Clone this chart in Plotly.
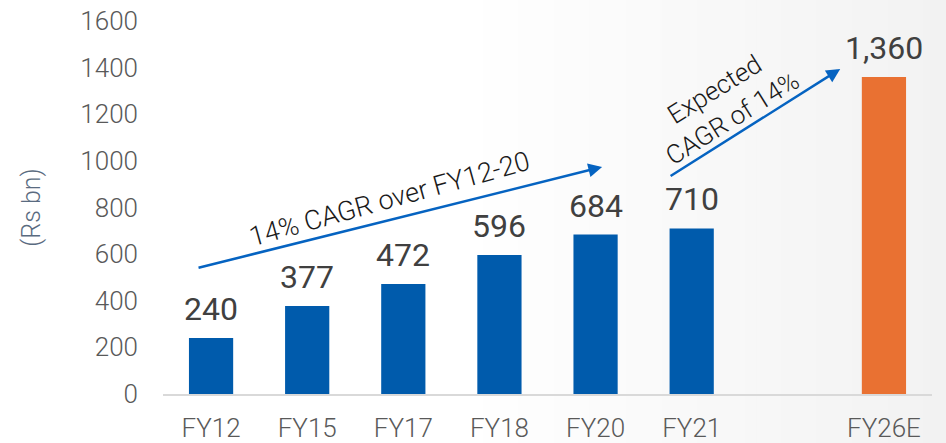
import plotly.graph_objects as go

categories = ["FY12", "FY15", "FY17", "FY18", "FY20", "FY21", " ", "FY26E"]
values = [240, 377, 472, 596, 684, 710, None, 1360]
bar_colors = ["#005BAC", "#005BAC", "#005BAC", "#005BAC", "#005BAC", "#005BAC", "#005BAC", "#E97132"]
y_ticks = [0, 200, 400, 600, 800, 1000, 1200, 1400, 1600]

FONT = "Roboto"

fig = go.Figure()
fig.add_trace(go.Bar(
    x=categories, y=values, marker=dict(color=bar_colors, line=dict(width=0)),
    width=0.46, hoverinfo="skip",
))

# subtle background gradient (white -> light grey towards the right)
n_steps = 40
x0p, x1p = 0.4, 1.02
for i in range(n_steps):
    t = (i + 1) / n_steps
    g = int(round(255 - t * 13))
    fig.add_shape(type="rect", xref="paper", yref="paper", layer="below",
                  x0=x0p + (x1p - x0p) * i / n_steps, x1=x0p + (x1p - x0p) * (i + 1) / n_steps + 0.002,
                  y0=-0.3, y1=1.2, line=dict(width=0), fillcolor=f"rgb({g},{g},{g})")

# data labels
for c, v in zip(categories, values):
    if v is None:
        continue
    fig.add_annotation(x=c, y=v, text=f"{v:,}", showarrow=False, yanchor="bottom",
                       yshift=8, font=dict(family=FONT, size=32, color="#404040"))

# arrows
arrow_color = "#0563C1"
fig.add_annotation(x=4.068, y=974, ax=-0.146, ay=540, xref="x", yref="y", axref="x", ayref="y",
                   text="", showarrow=True, arrowhead=2, arrowsize=1.1, arrowwidth=2.5,
                   arrowcolor=arrow_color)
fig.add_annotation(x=6.545, y=1394, ax=4.765, ay=931, xref="x", yref="y", axref="x", ayref="y",
                   text="", showarrow=True, arrowhead=2, arrowsize=1.1, arrowwidth=2.5,
                   arrowcolor=arrow_color)

fig.add_annotation(x=1.86, y=835, text="14% CAGR over FY12-20", showarrow=False,
                   textangle=-15.5, font=dict(family=FONT, size=27, color="#1a1a1a", weight=300))
fig.add_annotation(x=5.327, y=1244, text="Expected<br>CAGR of 14%", showarrow=False,
                   textangle=-32, font=dict(family=FONT, size=26, color="#1a1a1a", weight=300))

fig.update_layout(
    width=946, height=443,
    margin=dict(l=163, r=14, t=21, b=49),
    paper_bgcolor="white", plot_bgcolor="rgba(0,0,0,0)",
    showlegend=False,
    font=dict(family=FONT, color="#595959"),
    bargap=0.54,
)
fig.update_xaxes(type="category", categoryorder="array", categoryarray=categories,
                 showline=True, linecolor="#d9d9d9", linewidth=2, showgrid=False,
                 tickfont=dict(size=26, color="#595959", family=FONT, weight=300), ticks="",
                 ticklabelstandoff=10, automargin=False, layer="above traces")
fig.update_yaxes(range=[0, 1600], tickvals=y_ticks, showgrid=False, zeroline=False,
                 showline=False, tickfont=dict(size=26, color="#595959", family=FONT, weight=300),
                 ticklabelstandoff=24, automargin=False,
                 title=dict(text="(Rs bn)", font=dict(size=25, color="#5a6b80", family=FONT, weight=300),
                            standoff=32))

fig.write_html("out.html", config={"displayModeBar": False},
               post_script="document.body.style.margin='0';document.body.style.overflow='hidden';")
